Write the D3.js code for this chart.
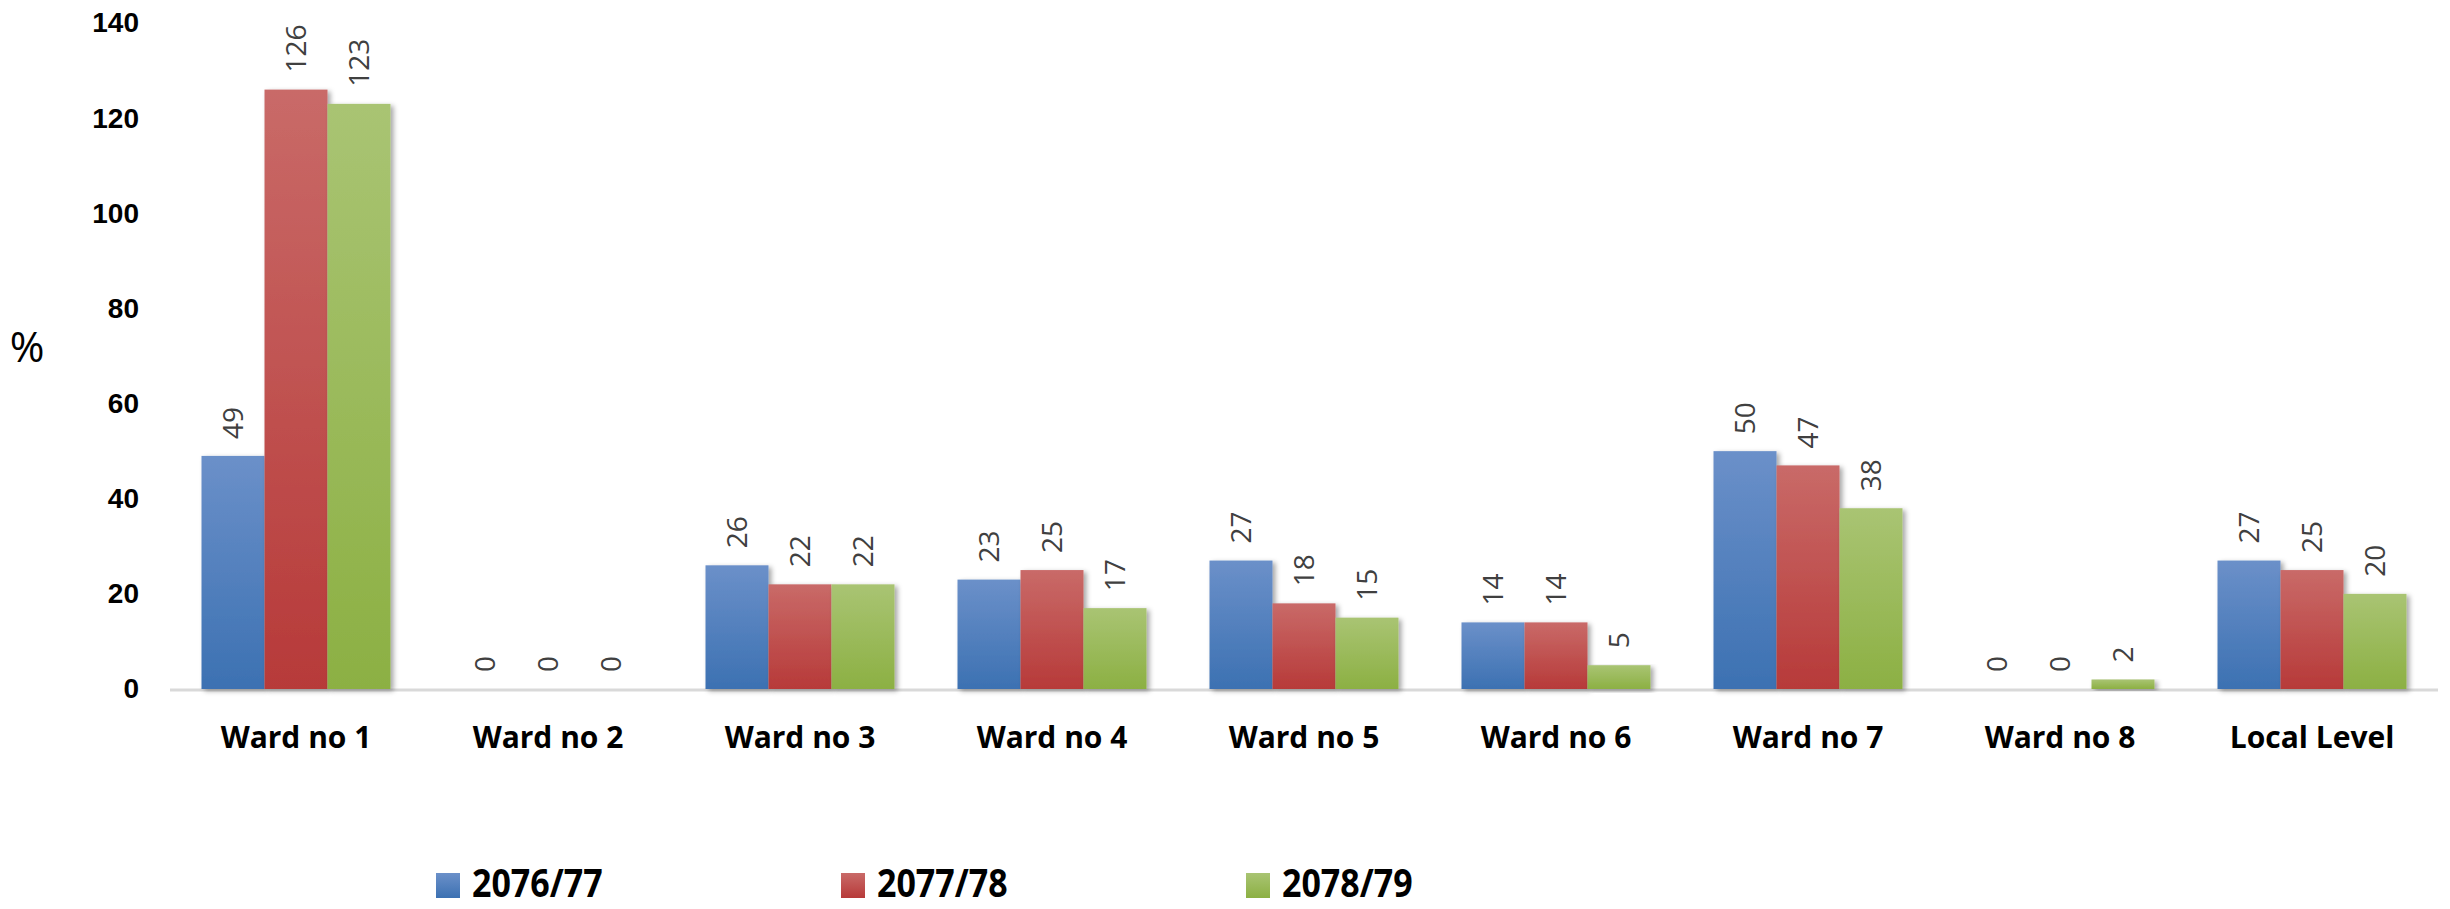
<!DOCTYPE html>
<html>
<head>
<meta charset="utf-8">
<script src="https://cdn.jsdelivr.net/npm/d3@7"></script>
<style>
  html, body { margin: 0; padding: 0; background: #ffffff; }
  svg { display: block; }
</style>
</head>
<body>
<svg id="chart" width="2450" height="909"></svg>
<script>
const categories = ["Ward no 1", "Ward no 2", "Ward no 3", "Ward no 4", "Ward no 5", "Ward no 6", "Ward no 7", "Ward no 8", "Local Level"];
const seriesNames = ["2076/77", "2077/78", "2078/79"];
const values2076_77 = [49, 0, 26, 23, 27, 14, 50, 0, 27];
const values2077_78 = [126, 0, 22, 25, 18, 14, 47, 0, 25];
const values2078_79 = [123, 0, 22, 17, 15, 5, 38, 2, 20];
const yTicks = [0, 20, 40, 60, 80, 100, 120, 140];
const yLabel = "%";

const seriesValues = [values2076_77, values2077_78, values2078_79];
const colorsTop = ["#6b90c9", "#c96a68", "#a9c473"];
const colorsBottom = ["#3c71b2", "#b73a39", "#8cb043"];

const svg = d3.select("#chart");
const defs = svg.append("defs");
seriesNames.forEach((s, i) => {
  const g = defs.append("linearGradient").attr("id", "grad" + i)
    .attr("x1", 0).attr("y1", 0).attr("x2", 0).attr("y2", 1);
  g.append("stop").attr("offset", "0%").attr("stop-color", colorsTop[i]);
  g.append("stop").attr("offset", "100%").attr("stop-color", colorsBottom[i]);
});
const f = defs.append("filter").attr("id", "shadow")
  .attr("x", "-20%").attr("y", "-5%").attr("width", "150%").attr("height", "120%");
f.append("feDropShadow").attr("dx", 3).attr("dy", 2).attr("stdDeviation", 2.5)
  .attr("flood-color", "#000").attr("flood-opacity", 0.35);

const x0 = d3.scaleBand().domain(categories).range([170, 2438]).padding(0);
const x1 = d3.scaleBand().domain(seriesNames).range([31.5, x0.bandwidth() - 31.5]).padding(0);
const y = d3.scaleLinear().domain([0, 140]).range([689, 23]);

// baseline axis line
svg.append("line")
  .attr("x1", x0.range()[0]).attr("x2", x0.range()[1])
  .attr("y1", y(0) + 1).attr("y2", y(0) + 1)
  .attr("stroke", "#d9d9d9").attr("stroke-width", 3);

// y-axis tick labels
const yAxis = d3.axisLeft(y).tickValues(yTicks).tickSize(0).tickPadding(0);
const yg = svg.append("g").attr("transform", "translate(139,0)").call(yAxis);
yg.select(".domain").remove();
yg.selectAll("text")
  .attr("font-family", "'Liberation Sans', Arial, sans-serif")
  .attr("font-weight", "bold").attr("font-size", 28).attr("fill", "#000");

// y label
svg.append("text").attr("x", 27).attr("y", 347).attr("dy", "0.35em")
  .attr("text-anchor", "middle")
  .attr("font-family", "'Open Sans', sans-serif").attr("font-size", 42).attr("fill", "#000")
  .text(yLabel);

// bars
const groups = svg.selectAll("g.cat").data(categories).join("g")
  .attr("class", "cat").attr("transform", d => `translate(${x0(d)},0)`);

groups.each(function(cat, ci) {
  const g = d3.select(this);
  seriesNames.forEach((s, si) => {
    const v = seriesValues[si][ci];
    if (v > 0) {
      g.append("rect")
        .attr("x", x1(s)).attr("width", x1.bandwidth())
        .attr("y", y(v)).attr("height", y(0) - y(v))
        .attr("fill", `url(#grad${si})`)
        .attr("filter", "url(#shadow)");
    }
  });
  seriesNames.forEach((s, si) => {
    const v = seriesValues[si][ci];
    g.append("text")
      .attr("transform", `translate(${x1(s) + x1.bandwidth() / 2},${y(v) - 17}) rotate(-90)`)
      .attr("dy", "0.36em")
      .attr("text-anchor", "start")
      .attr("font-family", "'Open Sans', sans-serif").attr("font-size", 28)
      .attr("fill", "#404040")
      .text(v);
  });
});

// category labels
const xAxis = d3.axisBottom(x0).tickSize(0).tickPadding(0);
const xg = svg.append("g").attr("transform", "translate(0,748)").call(xAxis);
xg.select(".domain").remove();
xg.selectAll("text")
  .attr("dy", 0)
  .attr("font-family", "'Open Sans', sans-serif")
  .attr("font-weight", "bold").attr("font-size", 30).attr("fill", "#000");

// legend
const legendX = [436, 841, 1246];
const lg = svg.selectAll("g.legend").data(seriesNames).join("g")
  .attr("class", "legend").attr("transform", (d, i) => `translate(${legendX[i]},0)`);
lg.append("rect").attr("x", 0).attr("y", 873).attr("width", 24).attr("height", 25)
  .attr("fill", (d, i) => `url(#grad${i})`);
lg.append("text")
  .attr("transform", "translate(36,897) scale(0.85,1)")
  .attr("font-family", "'Open Sans', sans-serif")
  .attr("font-weight", "bold").attr("font-size", 40).attr("fill", "#000")
  .text(d => d);
</script>
</body>
</html>
